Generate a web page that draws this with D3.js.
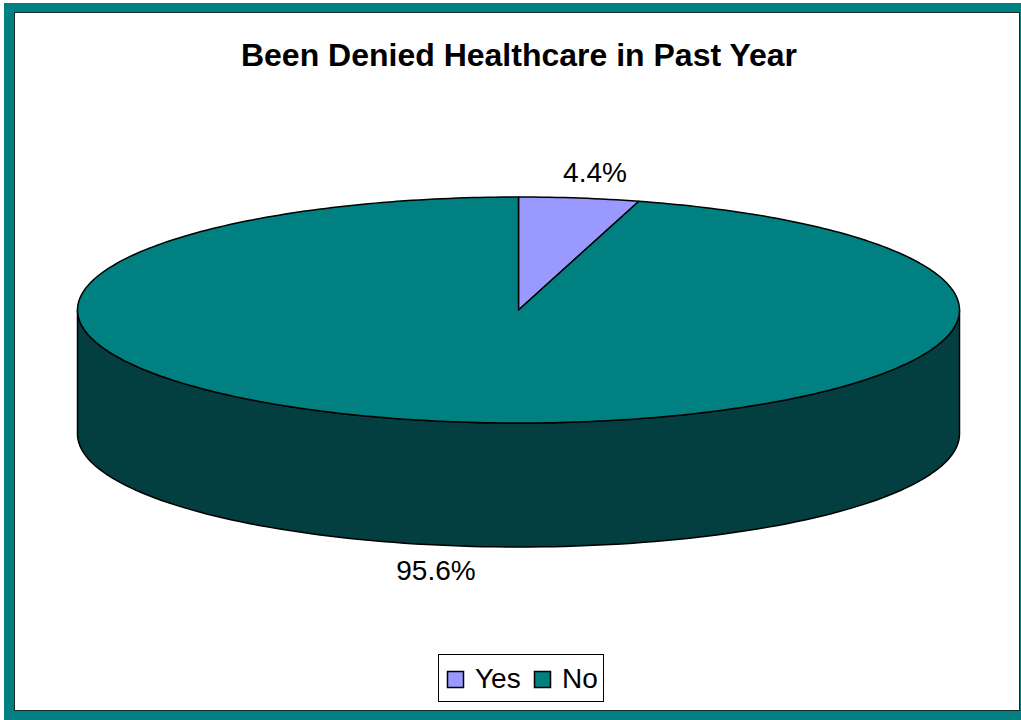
<!DOCTYPE html>
<html><head><meta charset="utf-8">
<script src="https://cdn.jsdelivr.net/npm/d3@7"></script>
<style>html,body{margin:0;padding:0;background:#fff;}svg{display:block;}</style>
</head><body>
<svg id="c" width="1021" height="720"></svg>
<script>
const categories = ["Yes", "No"];
const values = [4.4, 95.6];
const labels = ["4.4%", "95.6%"];
const colors = ["#9999FF", "#008080"];
const sideColors = ["#5C5C99", "#033E40"];
const title = "Been Denied Healthcare in Past Year";

const svg = d3.select("#c");
const W = 1021, H = 720;
// frame
svg.append("rect").attr("x",0).attr("y",0).attr("width",W).attr("height",H).attr("fill","#fff");
svg.append("rect").attr("x",4).attr("y",3).attr("width",W-4).attr("height",H-3).attr("fill","#008080");
svg.append("rect").attr("x",14).attr("y",12).attr("width",1006).attr("height",699).attr("fill","#1a2a2a");
svg.append("rect").attr("x",15).attr("y",13).attr("width",1004).attr("height",697).attr("fill","#fff");

svg.append("text").attr("x",519).attr("y",66).attr("text-anchor","middle")
  .attr("font-family","Liberation Sans, Arial, sans-serif").attr("font-weight","bold")
  .attr("font-size",32).attr("fill","#000").text(title);

const cx = 518.5, cy = 310, rx = 441, ry = 113, depth = 124;
const pie = d3.pie().sort(null).value(d => d)(values);
const proj = (a, dy=0) => [cx + rx*Math.sin(a), cy - ry*Math.cos(a) + dy];

// sides (front half: angles between PI/2 and 3PI/2)
pie.forEach((p,i) => {
  const a0 = Math.max(p.startAngle, Math.PI/2), a1 = Math.min(p.endAngle, 3*Math.PI/2);
  if (a1 <= a0) return;
  const n = 120;
  const top = d3.range(n+1).map(k => proj(a0 + (a1-a0)*k/n));
  const bot = d3.range(n+1).map(k => proj(a1 - (a1-a0)*k/n, depth));
  svg.append("path").attr("d", d3.line()(top.concat(bot)) + "Z")
    .attr("fill", sideColors[i]).attr("stroke","#000").attr("stroke-width",1.5).attr("stroke-linejoin","round");
});

// tops
pie.forEach((p,i) => {
  const n = Math.max(4, Math.ceil((p.endAngle-p.startAngle)/(2*Math.PI)*360));
  const pts = [[cx,cy]].concat(d3.range(n+1).map(k => proj(p.startAngle + (p.endAngle-p.startAngle)*k/n)));
  svg.append("path").attr("d", d3.line()(pts) + "Z")
    .attr("fill", colors[i]).attr("stroke","#000").attr("stroke-width",1.5).attr("stroke-linejoin","round");
});

// labels
const labelPos = [[595,182],[436,580]];
labels.forEach((t,i) => {
  svg.append("text").attr("x",labelPos[i][0]).attr("y",labelPos[i][1]).attr("text-anchor","middle")
    .attr("font-family","Liberation Sans, Arial, sans-serif").attr("font-size",28).attr("fill","#000").text(t);
});

// legend
const lg = svg.append("g");
lg.append("rect").attr("x",438.5).attr("y",654.5).attr("width",165).attr("height",47)
  .attr("fill","#fff").attr("stroke","#000").attr("stroke-width",1);
const lx = [447, 534];
categories.forEach((c,i) => {
  lg.append("rect").attr("x",lx[i]+0.5).attr("y",671.5).attr("width",16).attr("height",16)
    .attr("fill",colors[i]).attr("stroke","#000").attr("stroke-width",1.5);
  lg.append("text").attr("x",lx[i]+28).attr("y",688).attr("font-family","Liberation Sans, Arial, sans-serif")
    .attr("font-size",28).attr("fill","#000").text(c);
});
</script>
</body></html>
